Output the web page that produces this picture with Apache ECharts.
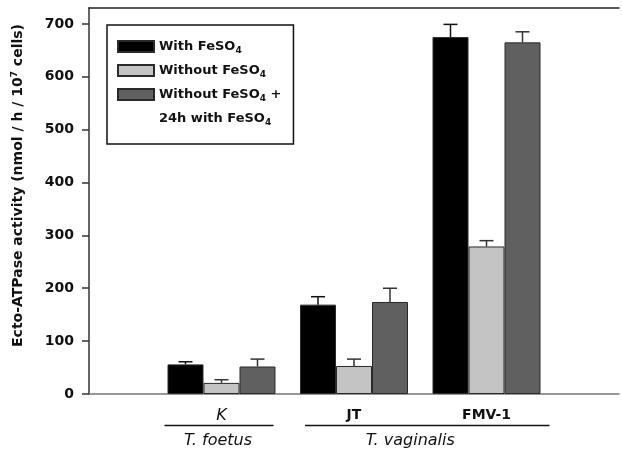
<!DOCTYPE html>
<html>
<head>
<meta charset="utf-8">
<script src="https://cdn.jsdelivr.net/npm/echarts@6/dist/echarts.min.js"></script>
<style>html,body{margin:0;padding:0;background:#fff}#c{width:622px;height:452px}</style>
</head>
<body>
<div id="c"></div>
<script>
// ---- data ----
const strains = ['K', 'JT', 'FMV-1'];
const axisCategories = ['', 'K', 'JT', 'FMV-1', ''];
const seriesNames = ['With FeSO₄', 'Without FeSO₄', 'Without FeSO₄ +'];
const legendExtra = '24h with FeSO₄';
const withFe = [56, 169, 675];
const withFeErr = [5, 15, 24];
const withoutFe = [21, 53, 279];
const withoutFeErr = [6, 13, 11];
const restored = [52, 174, 665];
const restoredErr = [14, 26, 20];
const yTicks = [0, 100, 200, 300, 400, 500, 600, 700];
const species = ['T. foetus', 'T. vaginalis'];
const speciesStrains = [['K'], ['JT', 'FMV-1']];

// ---- style ----
const FONT = 'DejaVu Sans';
const colors = ['#000000', '#c4c4c4', '#606060'];
const errColors = ['#111111', '#333333', '#333333'];
const BAR_W = 36;
const values = [withFe, withoutFe, restored];
const errs = [withFeErr, withoutFeErr, restoredErr];

const chart = echarts.init(document.getElementById('c'), null, {renderer: 'canvas'});

const series = [];
values.forEach((vals, si) => {
  series.push({
    name: seriesNames[si],
    type: 'bar',
    barWidth: BAR_W,
    barGap: '0%',
    data: strains.map((s, i) => [s, vals[i]]),
    itemStyle: {color: colors[si], borderColor: '#2a2a2a', borderWidth: 1},
    z: 2
  });
});
values.forEach((vals, si) => {
  series.push({
    name: 'err' + si,
    type: 'custom',
    data: strains.map((s, i) => [s, vals[i], errs[si][i]]),
    encode: {x: 0, y: 1},
    z: 3,
    renderItem: function (params, api) {
      const idx = api.value(0);
      const v = api.value(1), e = api.value(2);
      const p0 = api.coord([idx, v]);
      const p1 = api.coord([idx, v + e]);
      const x = p0[0] + (si - 1) * BAR_W;
      const st = {stroke: errColors[si], lineWidth: 1.5};
      return {
        type: 'group',
        children: [
          {type: 'line', shape: {x1: x, y1: p0[1], x2: x, y2: p1[1]}, style: st},
          {type: 'line', shape: {x1: x - 7, y1: p1[1], x2: x + 7, y2: p1[1]}, style: st}
        ]
      };
    }
  });
});
series.push({name: legendExtra, type: 'line', data: []});

const legendRich = {
  t: {fontFamily: FONT, fontWeight: 'bold', fontSize: 13, color: '#111', lineHeight: 16},
  sub: {fontFamily: FONT, fontWeight: 'bold', fontSize: 9, color: '#111', padding: [8, 0, 0, 0], lineHeight: 16}
};
function subFmt(name) {
  return name.split('₄').map(p => p ? '{t|' + p + '}' : '').join('{sub|4}');
}

chart.setOption({
  animation: false,
  backgroundColor: '#fff',
  grid: {left: 89, right: -5, top: 8, bottom: 58},
  legend: {
    orient: 'vertical',
    left: 107, top: 25,
    padding: [13, 12, 17, 10],
    borderColor: '#111', borderWidth: 1.5,
    itemWidth: 36, itemHeight: 11, itemGap: 7, itemTextGap: 8,
    selectedMode: false,
    data: [
      {name: seriesNames[0], icon: 'rect'},
      {name: seriesNames[1], icon: 'rect'},
      {name: seriesNames[2], icon: 'rect'},
      {name: legendExtra, icon: 'rect', itemStyle: {color: 'rgba(0,0,0,0)', borderWidth: 0}}
    ],
    formatter: subFmt,
    textStyle: {fontFamily: FONT, fontWeight: 'bold', fontSize: 13, color: '#111', lineHeight: 16, rich: legendRich}
  },
  xAxis: [
    {
      type: 'category',
      data: axisCategories,
      boundaryGap: false,
      axisLine: {lineStyle: {color: '#777', width: 1.5}},
      axisTick: {show: false},
      splitLine: {show: false},
      axisLabel: {
        margin: 14,
        interval: 0,
        formatter: v => v === 'K' ? '{i|K}' : (v ? '{b|' + v + '}' : ''),
        rich: {
          i: {fontFamily: FONT, fontStyle: 'italic', fontSize: 16, color: '#111'},
          b: {fontFamily: FONT, fontWeight: 'bold', fontSize: 14, color: '#111'}
        }
      }
    },
    {
      type: 'value', position: 'top', min: 0, max: 1,
      axisLine: {show: true, onZero: false, lineStyle: {color: '#222', width: 1.5}},
      axisTick: {show: false}, axisLabel: {show: false}, splitLine: {show: false}
    }
  ],
  yAxis: {
    type: 'value',
    min: 0, max: 730, interval: 100,
    splitLine: {show: false},
    axisLine: {show: true, lineStyle: {color: '#333', width: 1.5}},
    axisTick: {show: true, length: 7, customValues: yTicks, lineStyle: {color: '#333', width: 1.5}},
    axisLabel: {
      customValues: yTicks, margin: 15,
      fontFamily: FONT, fontWeight: 'bold', fontSize: 14, color: '#111'
    },
    name: '{b|Ecto-ATPase activity (nmol / h / 10}{sup|7}{b| cells)}',
    nameLocation: 'middle',
    nameGap: 62,
    nameTextStyle: {
      padding: [0, 0, 0, 31],
      rich: {
        b: {fontFamily: FONT, fontWeight: 'bold', fontSize: 14, color: '#111', lineHeight: 17},
        sup: {fontFamily: FONT, fontWeight: 'bold', fontSize: 9, color: '#111', padding: [0, 0, 8, 0], lineHeight: 17}
      }
    }
  },
  series: series
});

// species group annotations, positioned from the category axis
const linePad = [[57, 52], [49, 63]];
const labelShift = [-1, -17];
const graphics = [];
species.forEach((sp, k) => {
  const ss = speciesStrains[k];
  const a = chart.convertToPixel({xAxisIndex: 0, yAxisIndex: 0}, [ss[0], 0]);
  const b = chart.convertToPixel({xAxisIndex: 0, yAxisIndex: 0}, [ss[ss.length - 1], 0]);
  const x1 = a[0] - linePad[k][0], x2 = b[0] + linePad[k][1];
  const y = a[1] + 31.5;
  graphics.push({type: 'line', shape: {x1: x1, y1: y, x2: x2, y2: y}, style: {stroke: '#111', lineWidth: 1.5}});
  graphics.push({
    type: 'text', x: (x1 + x2) / 2 + labelShift[k], y: y + 15,
    style: {text: sp, fontFamily: FONT, fontStyle: 'italic', fontSize: 16, fill: '#111', align: 'center', verticalAlign: 'middle'}
  });
});
chart.setOption({graphic: graphics});
</script>
</body>
</html>
